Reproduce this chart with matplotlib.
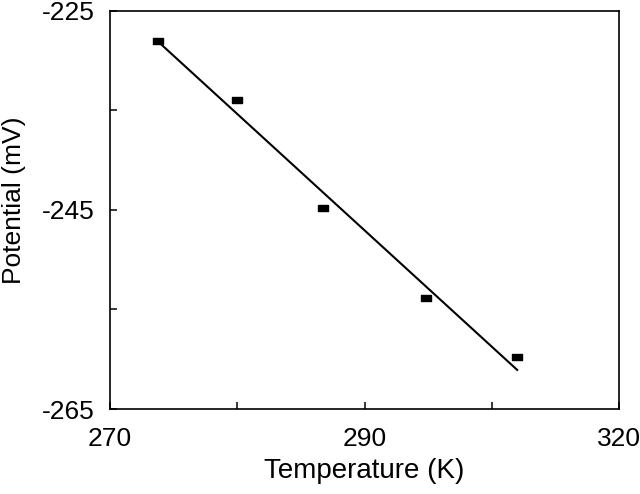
import numpy as np
import matplotlib
matplotlib.use("Agg")
import matplotlib.pyplot as plt
from matplotlib.path import Path

plt.rcParams['font.family'] = ['Liberation Sans', 'DejaVu Sans']

temperature = [274.7, 282.5, 290.9, 301.0, 310.0]
potential = [-228.0, -234.0, -244.8, -253.8, -259.8]

x_ticks = [270, 282.5, 295, 307.5, 320]
x_labels = ['270', '', '290', '', '320']
y_ticks = [-265, -255, -245, -235, -225]
y_labels = ['-265', '', '-245', '', '-225']

# linear fit through the points
slope, intercept = np.polyfit(temperature, potential, 1)
fit_x = np.array([temperature[0], temperature[-1]])
fit_y = slope * fit_x + intercept

rect = Path([(-1, -0.65), (1, -0.65), (1, 0.65), (-1, 0.65), (-1, -0.65)],
            [Path.MOVETO, Path.LINETO, Path.LINETO, Path.LINETO, Path.CLOSEPOLY])

fig = plt.figure(figsize=(6.4, 4.94), dpi=100)
ax = fig.add_axes([0.1719, 0.172, 0.7953, 0.8063])

ax.plot(fit_x, fit_y, color='black', lw=1.5)
ax.plot(temperature, potential, linestyle='none', marker=rect, markersize=7.5,
        color='black')

ax.set_xlim(270, 320)
ax.set_ylim(-265, -225)
ax.set_xticks(x_ticks)
ax.set_xticklabels(x_labels)
ax.set_yticks(y_ticks)
ax.set_yticklabels(y_labels)
ax.tick_params(direction='in', length=5, width=1.1, labelsize=19)
ax.tick_params(axis='x', pad=13)
ax.tick_params(axis='y', pad=11)
for s in ax.spines.values():
    s.set_linewidth(1.2)

ax.set_xlabel("Temperature (K)", fontsize=20, labelpad=5)
ax.set_ylabel("Potential (mV)", fontsize=19)
ax.yaxis.set_label_coords(-0.166, 0.525)

fig.savefig("out.png", dpi=100)
